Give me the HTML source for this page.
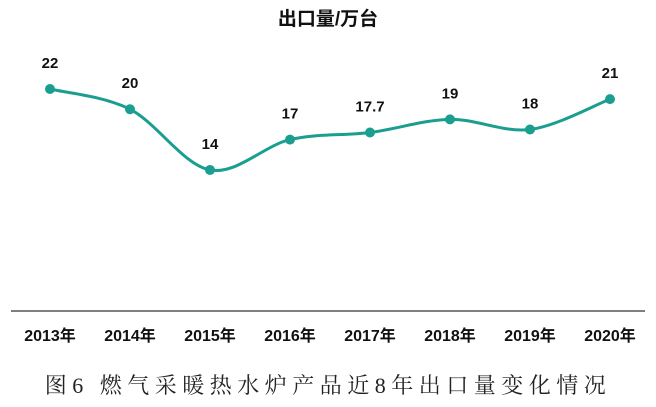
<!DOCTYPE html>
<html><head><meta charset="utf-8"><style>
html,body{margin:0;padding:0;background:#fff;width:656px;height:407px;overflow:hidden}
svg{display:block}
</style></head><body>
<svg id="chart" width="656" height="407" xmlns="http://www.w3.org/2000/svg">
<text x="328" y="25" text-anchor="middle" font-family="Liberation Sans, Noto Sans CJK SC, sans-serif" font-weight="bold" font-size="19" fill="#111">出口量/万台</text>
<line x1="11" y1="311" x2="645" y2="311" stroke="#555" stroke-width="1.5"/>
<g id="xlabels"></g>
<path id="line" fill="none" stroke="#1a9e90" stroke-width="3"/>
<g id="points"></g>
<text x="328" y="393" text-anchor="middle" font-family="Liberation Serif, Noto Serif CJK SC, serif" font-size="22" letter-spacing="5.5" fill="#222">图6 燃气采暖热水炉产品近8年出口量变化情况</text>
</svg>
<script>
const categories=["2013年","2014年","2015年","2016年","2017年","2018年","2019年","2020年"];
const values=[22,20,14,17,17.7,19,18,21];
const valueLabels=["22","20","14","17","17.7","19","18","21"];
const NS="http://www.w3.org/2000/svg";
function xs(i){return 50+i*80;}
function ys(v){return 89+(22-v)*10.12;}
const pts=values.map((v,i)=>[xs(i),ys(v)]);
let d="M"+pts[0][0]+","+pts[0][1];
for(let i=0;i<pts.length-1;i++){
  const p0=pts[i-1]||pts[i],p1=pts[i],p2=pts[i+1],p3=pts[i+2]||p2;
  const c1=[p1[0]+(p2[0]-p0[0])/6,p1[1]+(p2[1]-p0[1])/6];
  const c2=[p2[0]-(p3[0]-p1[0])/6,p2[1]-(p3[1]-p1[1])/6];
  d+=` C${c1[0]},${c1[1]} ${c2[0]},${c2[1]} ${p2[0]},${p2[1]}`;
}
document.getElementById('line').setAttribute('d',d);
const g=document.getElementById('points'),xl=document.getElementById('xlabels');
pts.forEach((p,i)=>{
  const c=document.createElementNS(NS,'circle');
  
  
  c.setAttribute('cx',p[0]);c.setAttribute('cy',p[1]);c.setAttribute('r',5);c.setAttribute('fill','#1a9e90');
  g.appendChild(c);
  const t=document.createElementNS(NS,'text');
  
  
  t.setAttribute('x',p[0]);t.setAttribute('y',p[1]-21);t.setAttribute('text-anchor','middle');
  t.setAttribute('font-family','Liberation Sans, sans-serif');t.setAttribute('font-weight','bold');t.setAttribute('font-size','15');t.setAttribute('fill','#111');
  t.textContent=valueLabels[i];g.appendChild(t);
  const x=document.createElementNS(NS,'text');
  
  
  x.setAttribute('x',p[0]);x.setAttribute('y',341);x.setAttribute('text-anchor','middle');
  x.setAttribute('font-family','Liberation Sans, Noto Sans CJK SC, sans-serif');x.setAttribute('font-weight','bold');x.setAttribute('font-size','16');x.setAttribute('fill','#111');
  x.textContent=categories[i];xl.appendChild(x);
});
</script>
</body></html>
